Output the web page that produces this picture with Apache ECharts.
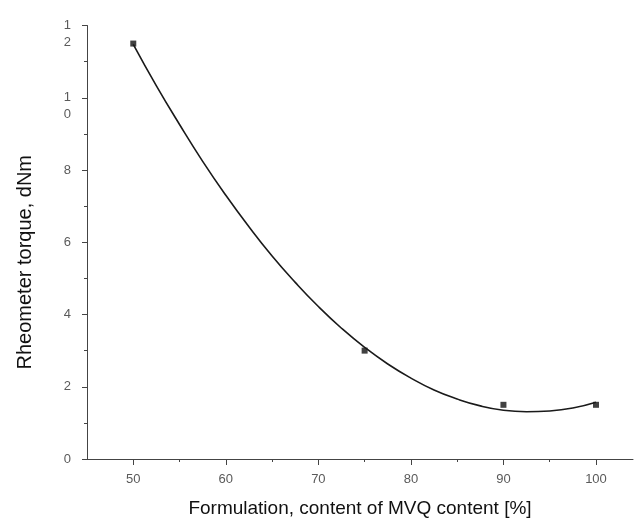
<!DOCTYPE html>
<html><head><meta charset="utf-8">
<script src="https://cdn.jsdelivr.net/npm/echarts@6/dist/echarts.min.js"></script>
<style>html,body{margin:0;padding:0;background:#fff}#c{width:635px;height:525px}</style>
</head><body><div id="c"></div>
<script>
// measured points
const mvqContent = [50, 75, 90, 100];
const torque = [11.5, 3.0, 1.5, 1.5];
// fitted curve
const fitX = [50, 52.5, 55, 57.5, 60, 62.5, 65, 67.5, 70, 72.5, 75, 77.5, 80, 82.5, 85, 87.5, 90, 92.5, 95, 97.5, 100];
const fitY = [11.48, 10.33, 9.26, 8.24, 7.30, 6.43, 5.62, 4.89, 4.22, 3.62, 3.09, 2.63, 2.24, 1.91, 1.66, 1.47, 1.35, 1.31, 1.33, 1.41, 1.57];
// ticks
const xMajorTicks = [50, 60, 70, 80, 90, 100];
const xMinorTicks = [55, 65, 75, 85, 95];
const yMajorTicks = [0, 2, 4, 6, 8, 10, 12];
const yMinorTicks = [1, 3, 5, 7, 9, 11];
const xTitle = 'Formulation, content of MVQ content [%]';
const yTitle = 'Rheometer torque, dNm';

const FONT = '"Liberation Sans", Arial, sans-serif';
const axisCol = '#444';
const labelCol = '#5a5a5a';

const chart = echarts.init(document.getElementById('c'), null, {renderer: 'canvas'});

const baseX = {type: 'value', min: 45, max: 104, gridIndex: 0, splitLine: {show: false}};
const baseY = {type: 'value', min: 0, max: 12, gridIndex: 0, splitLine: {show: false}};

chart.setOption({
  animation: false,
  backgroundColor: '#fff',
  grid: {left: 87, right: 2, top: 20, bottom: 66},
  xAxis: [
    Object.assign({}, baseX, {
      position: 'bottom',
      axisLine: {show: true, lineStyle: {color: axisCol, width: 1}},
      axisTick: {show: true, inside: false, length: 6, customValues: xMajorTicks, lineStyle: {color: axisCol}},
      axisLabel: {show: true, customValues: xMajorTicks, margin: 14, color: labelCol, fontSize: 13, fontFamily: FONT},
      name: xTitle, nameLocation: 'middle', nameGap: 40,
      nameTextStyle: {fontSize: 19, color: '#111', fontFamily: FONT}
    }),
    Object.assign({}, baseX, {
      position: 'bottom', offset: 0,
      axisLine: {show: false},
      axisTick: {show: true, inside: false, length: 3, customValues: xMinorTicks, lineStyle: {color: axisCol}},
      axisLabel: {show: false}
    })
  ],
  yAxis: [
    Object.assign({}, baseY, {
      position: 'left',
      axisLine: {show: true, lineStyle: {color: axisCol, width: 1}},
      axisTick: {show: true, inside: false, length: 5, customValues: yMajorTicks, lineStyle: {color: axisCol}},
      axisLabel: {
        show: true, customValues: yMajorTicks, margin: 16, color: labelCol, fontSize: 13, fontFamily: FONT,
        lineHeight: 17,
        formatter: function (v) {
          const s = String(v);
          return s.length > 1 ? '\n' + s.split('').join('\n') : s;
        }
      },
      name: yTitle, nameLocation: 'middle', nameGap: 52, nameRotate: 90,
      nameTextStyle: {fontSize: 20, color: '#111', fontFamily: FONT, padding: [0, 40, 0, 0]}
    }),
    Object.assign({}, baseY, {
      position: 'left', offset: 0,
      axisLine: {show: false},
      axisTick: {show: true, inside: false, length: 3, customValues: yMinorTicks, lineStyle: {color: axisCol}},
      axisLabel: {show: false}
    })
  ],
  series: [
    {
      type: 'line', xAxisIndex: 0, yAxisIndex: 0,
      data: fitX.map((x, i) => [x, fitY[i]]),
      smooth: true, showSymbol: false, symbol: 'none',
      lineStyle: {color: '#1a1a1a', width: 1.6}
    },
    {
      type: 'scatter', xAxisIndex: 0, yAxisIndex: 0,
      data: mvqContent.map((x, i) => [x, torque[i]]),
      symbol: 'rect', symbolSize: 6,
      itemStyle: {color: '#111'}
    }
  ]
});
</script>
</body></html>
